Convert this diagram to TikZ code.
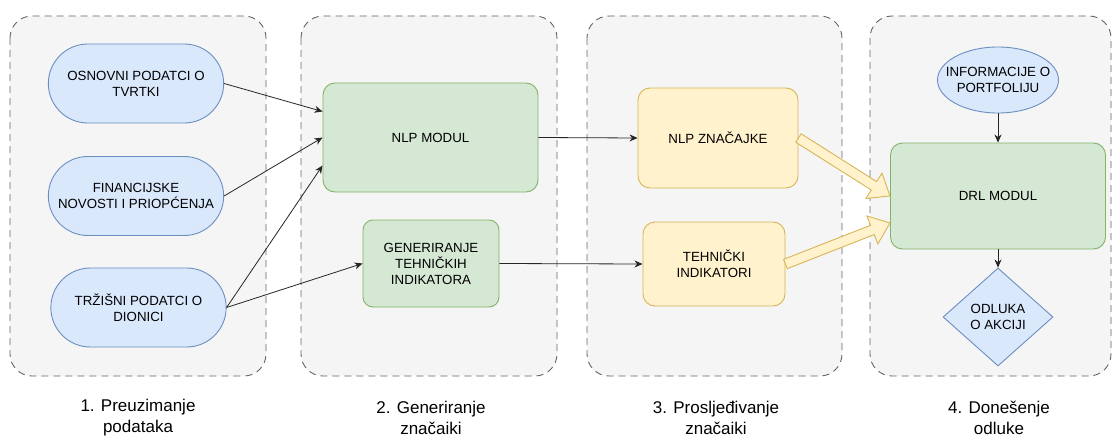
\documentclass[tikz,border=0pt]{standalone}
\usepackage{fontspec}
\setmainfont{Liberation Sans}
\usepackage{xcolor}
\usetikzlibrary{arrows.meta,positioning,calc,shapes.geometric,shapes.misc}
\definecolor{grpfill}{HTML}{F5F5F5}
\definecolor{grpdraw}{HTML}{666666}
\definecolor{bluefill}{HTML}{DAE8FC}
\definecolor{bluedraw}{HTML}{6C8EBF}
\definecolor{greenfill}{HTML}{D5E8D4}
\definecolor{greendraw}{HTML}{82B366}
\definecolor{yellowfill}{HTML}{FFF2CC}
\definecolor{yellowdraw}{HTML}{D6B656}

\begin{document}
\begin{tikzpicture}[x=1pt, y=-1pt, every node/.style={font=\fontsize{13.3}{16}\selectfont, align=center, line width=0.9pt}, group/.style={draw=grpdraw, fill=grpfill, dash pattern=on 7pt off 5pt, rounded corners=22pt, line width=0.9pt}, src/.style={rounded rectangle, draw=bluedraw, fill=bluefill, minimum width=182pt, minimum height=79pt}, module/.style={draw=greendraw, fill=greenfill, rounded corners=12pt}, feat/.style={draw=yellowdraw, fill=yellowfill, rounded corners=12pt}, link/.style={-{Stealth[length=8pt,width=7pt,inset=2.5pt]}, line width=0.8pt, draw=black!85}, fat/.style={draw=yellowdraw, fill=yellowfill, line width=0.9pt, line join=miter}, stage/.style={font=\fontsize{17}{21}\selectfont}]
    \useasboundingbox (0,0) rectangle (1113,436);
    \fill[white] (0,0) rectangle (1113,436);

    \foreach \xa/\xb in {10/266,301/557,587/842,870/1111}{
      \draw[group] (\xa,16) rectangle (\xb,376);
    }
    \foreach \x/\n/\lab in {138/1/{1. Preuzimanje\\podataka},431/2/{2. Generiranje\\značaiki},716/3/{3. Prosljeđivanje\\značaiki},999/4/{4. Donešenje\\odluke}}{
      \node[stage] (stage\n) at (\x,418) {\lab};
    }

    \node[src] (tvrtka) at (136,83.5) {OSNOVNI PODATCI O\\TVRTKI};
    \node[src] (novosti) at (136,196) {FINANCIJSKE\\NOVOSTI I PRIOPĆENJA};
    \node[src] (trziste) at (138.5,307.5) {TRŽIŠNI PODATCI O\\DIONICI};

    \node[module, minimum width=215pt, minimum height=109pt] (nlp) at (430.5,137.5) {NLP MODUL};
    \node[module, minimum width=136pt, minimum height=87pt, rounded corners=10pt] (gen) at (431,263.5) {GENERIRANJE\\TEHNIČKIH\\INDIKATORA};

    \node[feat, minimum width=160pt, minimum height=100pt] (nlpznac) at (718,138) {NLP ZNAČAJKE};
    \node[feat, minimum width=142pt, minimum height=84pt] (tehind) at (714,264) {TEHNIČKI\\INDIKATORI};

    \node[ellipse, draw=bluedraw, fill=bluefill, minimum width=121pt, minimum height=66pt, inner xsep=-14pt, inner ysep=4pt] (portfelj) at (998,80) {INFORMACIJE O\\PORTFOLIJU};
    \node[module, minimum width=215pt, minimum height=106pt] (drl) at (998,196) {DRL MODUL};
    \node[diamond, draw=bluedraw, fill=bluefill, minimum width=110pt, minimum height=98pt, inner sep=0pt] (odluka) at (998,317) {ODLUKA\\O AKCIJI};

    \draw[link] (tvrtka.east) -- ($(nlp.west)+(0,-26)$);
    \draw[link] (novosti.east) -- (nlp.west);
    \draw[link] (trziste.east) -- ($(nlp.west)+(0,28)$);
    \draw[link] (trziste.east) -- (gen.west);
    \draw[link] (nlp.east) -- (nlpznac.west);
    \draw[link] (gen.east) -- (tehind.west);
    \draw[link] (portfelj.south) -- (drl.north);
    \draw[link] (drl.south) -- (odluka.north);

    \coordinate (drlin) at ($(drl.west)+(0,27)$);
    \foreach \a/\b in {nlpznac.east/drl.west,tehind.east/drlin}{
      \draw[fat] let \p1=(\a), \p2=(\b), \n1={atan2(\y2-\y1,\x2-\x1)}, \n2={veclen(\x2-\x1,\y2-\y1)} in [shift={(\p1)}, rotate=\n1] (0,-5) -- ({\n2-19},-5) -- ({\n2-19},-15) -- (\n2,0) -- ({\n2-19},15) -- ({\n2-19},5) -- (0,5) -- cycle;
    }
\end{tikzpicture}
\end{document}
